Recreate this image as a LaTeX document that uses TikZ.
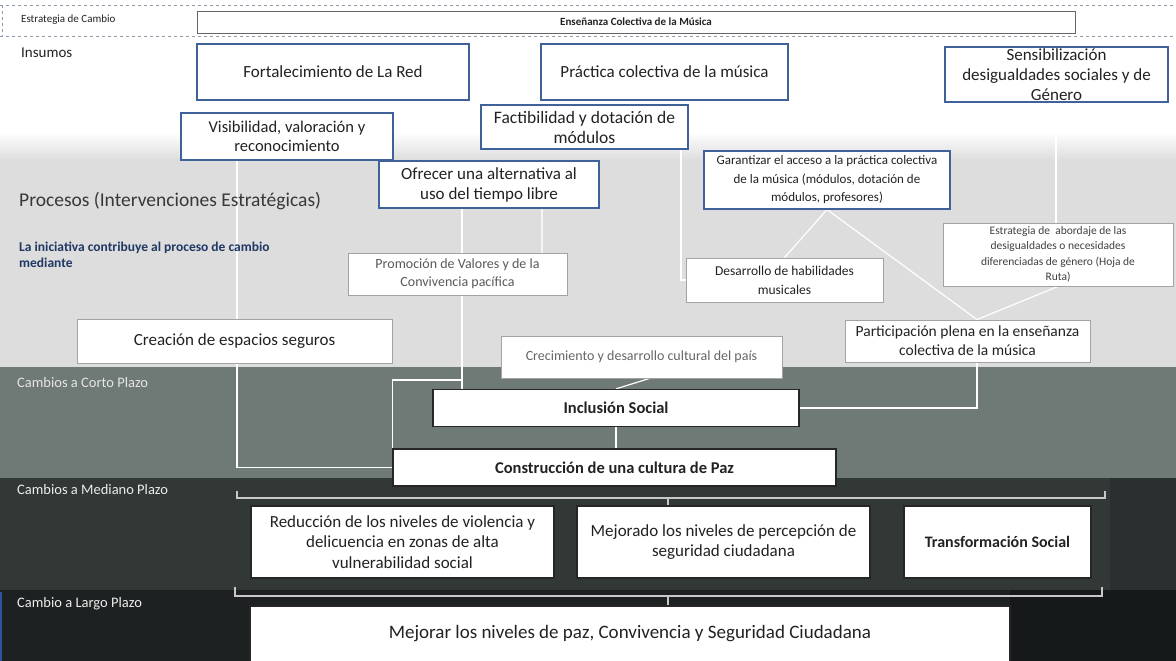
\documentclass[tikz,border=0pt]{standalone}
\usepackage{fontspec}
\setmainfont{Carlito}
\usetikzlibrary{calc}
\definecolor{boxblue}{HTML}{40629A}
\definecolor{boxgray}{HTML}{A3A3A3}
\definecolor{bandlight}{HTML}{DDDDDD}
\definecolor{bandshort}{HTML}{6F7A76}
\definecolor{bandmid}{HTML}{313836}
\definecolor{bandmidR}{HTML}{2A302F}
\definecolor{bandlong}{HTML}{1D2121}
\definecolor{bandlongR}{HTML}{161919}
\definecolor{txt}{HTML}{222222}
\definecolor{navy}{HTML}{1F3864}
\definecolor{braceg}{HTML}{C8C8C8}
\definecolor{dashg}{HTML}{8C9AA8}
\definecolor{edgeblue}{HTML}{2F5597}
\newcommand\myfs[2]{\fontsize{#1}{#2}\selectfont}
\pgfdeclarelayer{bands}
\pgfdeclarelayer{links}
\pgfsetlayers{bands,links,main}
\begin{document}
\begin{tikzpicture}[x=1pt,y=-1pt,
  bluebox/.style={draw=boxblue, line width=1.1pt, fill=white, align=center, inner sep=1pt, text=txt},
  graybox/.style={draw=boxgray, line width=0.9pt, fill=white, align=center, inner sep=1pt, text=txt},
  darkbox/.style={draw=black!85, line width=1.3pt, fill=white, align=center, inner sep=1pt, text=txt},
  conn/.style={draw=white, line width=1.2pt},
  bracket/.style={draw=braceg, line width=1.5pt},
  lbl/.style={anchor=west, inner sep=0pt}]
\useasboundingbox (0,0) rectangle (1176,661);
% bands
\begin{pgfonlayer}{bands}
\fill[white] (0,0) rectangle (1176,661);
\shade[top color=white, bottom color=bandlight] (0,132) rectangle (1176,160);
\fill[bandlight] (0,160) rectangle (1176,367);
\fill[bandshort] (0,367) rectangle (1176,478);
\fill[bandmid] (0,478) rectangle (1176,590);
\fill[bandmidR] (1110,478) rectangle (1176,590);
\fill[bandlong] (0,590) rectangle (1176,661);
\fill[bandlongR] (1010,590) rectangle (1176,661);
\draw[edgeblue, line width=1.5pt] (0.75,592) -- (0.75,661);
\draw[dashg, dashed, line width=0.8pt] (0,5) -- (1176,5) (0,36) -- (1176,36) (2,5) -- (2,36);
\end{pgfonlayer}
% column coordinates for connectors
\coordinate (cA) at (237,0);
\coordinate (cB) at (462,0);
\coordinate (cD) at (681,0);
\coordinate (cE) at (977,0);
\coordinate (cF) at (1056,0);
\coordinate (cG) at (542,0);
\coordinate (cM) at (668,0);
\coordinate (j1) at (462,380);
% labels
\node[lbl, text=txt, font=\myfs{11}{13}] (lEst) at (21,20) {Estrategia de Cambio};
\node[lbl, text=txt, font=\myfs{15}{17}] (lIns) at (21,53) {Insumos};
\node[lbl, text=black!78, font=\myfs{19.5}{22}] (lPro) at (19,201) {Procesos (Intervenciones Estratégicas)};
\node[anchor=north west, inner sep=0pt, align=left, text=navy, font=\myfs{13.5}{16}\bfseries] (lIni) at (19,242) {La iniciativa contribuye al proceso de cambio\\mediante};
\node[lbl, text=white!90!black, font=\myfs{14.5}{16}] (lCor) at (17,383) {Cambios a Corto Plazo};
\node[lbl, text=white!93!black, font=\myfs{14.5}{16}] (lMed) at (17,490) {Cambios a Mediano Plazo};
\node[lbl, text=white!93!black, font=\myfs{14.5}{16}] (lLar) at (17,604) {Cambio a Largo Plazo};
% boxes
\node[bluebox, draw=black!60, line width=0.9pt, minimum width=878pt, minimum height=22pt, font=\myfs{11}{13}\bfseries] (ens) at (636,22) {Enseñanza Colectiva de la Música};
\node[bluebox, minimum width=272pt, minimum height=56pt, font=\myfs{17}{20}] (fort) at (333,72) {Fortalecimiento de La Red};
\node[bluebox, minimum width=247pt, minimum height=56pt, font=\myfs{17}{20}] (prac) at (664.5,72) {Práctica colectiva de la música};
\node[bluebox, minimum width=223pt, minimum height=55pt, font=\myfs{17}{20}] (sens) at (1056.5,74.5) {Sensibilización\\desigualdades sociales y de\\Género};
\node[bluebox, minimum width=212pt, minimum height=47pt, font=\myfs{16.5}{18.5}] (visi) at (287,136.5) {Visibilidad, valoración y\\reconocimiento};
\node[bluebox, minimum width=207pt, minimum height=44pt, font=\myfs{17.5}{20}] (fact) at (584.5,127) {Factibilidad y dotación de\\módulos};
\node[bluebox, minimum width=220pt, minimum height=47pt, font=\myfs{17}{20}] (ofre) at (489,184.5) {Ofrecer una alternativa al\\uso del tiempo libre};
\node[bluebox, minimum width=246pt, minimum height=58pt, font=\myfs{13}{18.5}] (gara) at (827,180) {Garantizar el acceso a la práctica colectiva\\de la música (módulos, dotación de\\módulos, profesores)};
\node[graybox, text=black!65, minimum width=219pt, minimum height=42pt, font=\myfs{14}{18}] (prom) at (457.5,274) {Promoción de Valores y de la\\Convivencia pacífica};
\node[graybox, minimum width=197pt, minimum height=44pt, font=\myfs{13.5}{19}] (desa) at (784.5,280) {Desarrollo de habilidades\\musicales};
\node[graybox, text=black!75, minimum width=230pt, minimum height=63pt, font=\myfs{11.5}{15.5}] (estr) at (1058,254.5) {Estrategia de\ \ abordaje de las\\desigualdades o necesidades\\diferenciadas de género (Hoja de\\Ruta)};
\node[graybox, minimum width=315pt, minimum height=44pt, font=\myfs{17}{20}] (crea) at (234.5,341) {Creación de espacios seguros};
\node[graybox, text=black!60, minimum width=281pt, minimum height=42pt, font=\myfs{14}{16}] (crec) at (641.5,357) {Crecimiento y desarrollo cultural del país};
\node[graybox, minimum width=245pt, minimum height=42pt, font=\myfs{15.5}{19}] (part) at (967.5,341) {Participación plena en la enseñanza\\colectiva de la música};
\node[darkbox, minimum width=366pt, minimum height=37pt, font=\myfs{16.5}{19}\bfseries] (incl) at (616,408) {Inclusión Social};
\node[darkbox, minimum width=443pt, minimum height=37pt, font=\myfs{16.5}{19}\bfseries] (cons) at (614.5,467.5) {Construcción de una cultura de Paz};
\node[darkbox, minimum width=303pt, minimum height=72pt, font=\myfs{17}{20.5}] (redu) at (402.5,542) {Reducción de los niveles de violencia y\\delicuencia en zonas de alta\\vulnerabilidad social};
\node[darkbox, minimum width=293pt, minimum height=72pt, font=\myfs{17}{20.5}] (mejo) at (723.5,542) {Mejorado los niveles de percepción de\\seguridad ciudadana};
\node[darkbox, minimum width=187pt, minimum height=72pt, font=\myfs{16}{19}\bfseries] (tran) at (997.5,542) {Transformación Social};
\node[darkbox, minimum width=760pt, minimum height=56pt, font=\myfs{19}{22}] (mejr) at (630,634) {Mejorar los niveles de paz, Convivencia y Seguridad Ciudadana};
% connectors (beneath boxes)
\begin{pgfonlayer}{links}
\draw[conn] (visi.south -| cA) -- (crea.north -| cA);
\draw[conn] (crea.south -| cA) |- (cons.west);
\draw[conn] (ofre.south -| cB) -- (incl.north -| cB);
\draw[conn] (j1) -| (cons.north west);
\draw[conn, white!70!bandlight] (ofre.south -| cG) -- (prom.north -| cG);
\draw[conn] ($(crec.south)+(8,0)$) -- (incl.north);
\draw[conn] (incl.south) -- (incl.south |- cons.north);
\draw[conn] (incl.east) -| (part.south -| cE);
\draw[conn] (prac.south -| cD) |- (desa.west);
\draw[conn] (gara.south) -- (desa.north);
\draw[conn] (gara.south) -- (part.north -| cE);
\draw[conn] (estr.south) -- (part.north -| cE);
\draw[conn] (sens.south -| cF) -- (estr.north -| cF);
% brackets
\coordinate (b1l) at (237,491);
\coordinate (b1r) at (1105,491);
\coordinate (b2l) at (235,587);
\coordinate (b2r) at (1102,587);
\draw[bracket] (b1l) |- ($(b1r)+(0,7)$) -- (b1r);
\draw[bracket] ($(cM)+(0,498)$) -- (cM |- redu.north);
\draw[bracket] (b2l) |- ($(b2r)+(0,9)$) -- (b2r);
\draw[bracket] ($(cM)+(0,596)$) -- (cM |- mejr.north);
\end{pgfonlayer}
\end{tikzpicture}
\end{document}
